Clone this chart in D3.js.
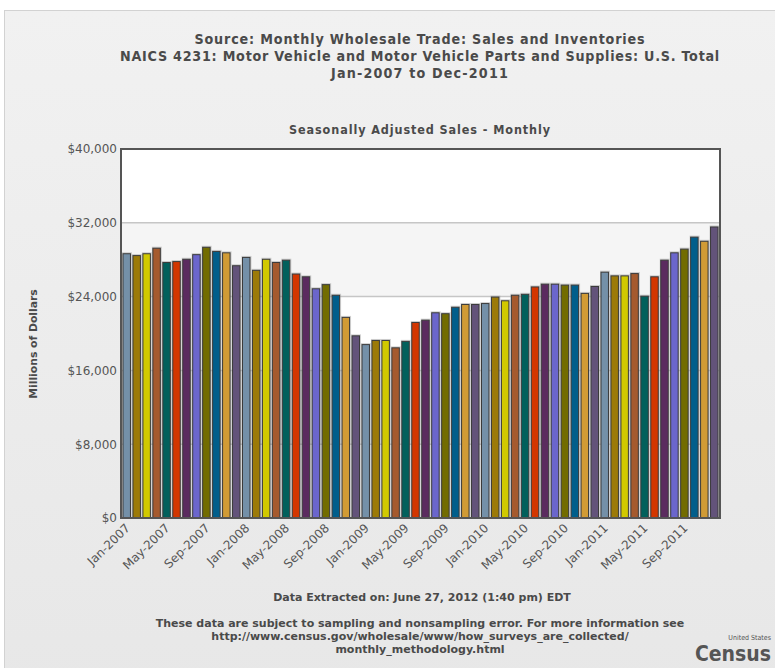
<!DOCTYPE html>
<html><head><meta charset="utf-8">
<script src="https://cdn.jsdelivr.net/npm/d3@7/dist/d3.min.js"></script>
<style>body{margin:0;background:#fff}svg{display:block}</style>
</head><body>
<svg id="c" width="775" height="668"></svg>
<script>
const months = [
 "Jan-2007","Feb-2007","Mar-2007","Apr-2007","May-2007","Jun-2007","Jul-2007","Aug-2007","Sep-2007","Oct-2007","Nov-2007","Dec-2007",
 "Jan-2008","Feb-2008","Mar-2008","Apr-2008","May-2008","Jun-2008","Jul-2008","Aug-2008","Sep-2008","Oct-2008","Nov-2008","Dec-2008",
 "Jan-2009","Feb-2009","Mar-2009","Apr-2009","May-2009","Jun-2009","Jul-2009","Aug-2009","Sep-2009","Oct-2009","Nov-2009","Dec-2009",
 "Jan-2010","Feb-2010","Mar-2010","Apr-2010","May-2010","Jun-2010","Jul-2010","Aug-2010","Sep-2010","Oct-2010","Nov-2010","Dec-2010",
 "Jan-2011","Feb-2011","Mar-2011","Apr-2011","May-2011","Jun-2011","Jul-2011","Aug-2011","Sep-2011","Oct-2011","Nov-2011","Dec-2011"
];
const sales = [
 28700,28500,28700,29300,27750,27850,28100,28600,29400,28950,28800,27400,
 28300,26900,28100,27750,28000,26500,26200,24900,25350,24200,21800,19800,
 18850,19300,19300,18500,19200,21250,21500,22300,22200,22900,23200,23200,
 23300,24000,23600,24200,24300,25100,25400,25400,25300,25300,24400,25150,
 26700,26300,26300,26550,24100,26200,28000,28800,29200,30500,30050,31600
];
const xTickLabels = ["Jan-2007","May-2007","Sep-2007","Jan-2008","May-2008","Sep-2008","Jan-2009","May-2009","Sep-2009","Jan-2010","May-2010","Sep-2010","Jan-2011","May-2011","Sep-2011"];
const yTickValues = [0,8000,16000,24000,32000,40000];
const palette = ["#7490a8","#9c7a08","#d1c900","#a55a2e","#02605c","#d33600","#5b2b5f","#6b66cc","#726c00","#015e8b","#d19b35","#63537a"];
const titleLines = ["Source: Monthly Wholesale Trade: Sales and Inventories","NAICS 4231: Motor Vehicle and Motor Vehicle Parts and Supplies: U.S. Total","Jan-2007 to Dec-2011"];
const subtitle = "Seasonally Adjusted Sales - Monthly";
const yTitle = "Millions of Dollars";
const footLines = ["These data are subject to sampling and nonsampling error. For more information see","http://www.census.gov/wholesale/www/how_surveys_are_collected/","monthly_methodology.html"];
const extracted = "Data Extracted on: June 27, 2012 (1:40 pm) EDT";

const svg = d3.select("#c");
const defs = svg.append("defs");
const g1 = defs.append("linearGradient").attr("id","bg").attr("x1",0).attr("y1",0).attr("x2",0).attr("y2",1);
g1.append("stop").attr("offset","0%").attr("stop-color","#f1f1f1");
g1.append("stop").attr("offset","100%").attr("stop-color","#e7e7e7");

svg.append("rect").attr("x",4.5).attr("y",10.5).attr("width",800).attr("height",700)
  .attr("fill","url(#bg)").attr("stroke","#d2d2d2");

const TF = "'DejaVu Sans Condensed','DejaVu Sans',sans-serif";
const VF = "'DejaVu Sans',Verdana,sans-serif";
function fitSize(t,w,cap){const c=t.node().getComputedTextLength();const fs=parseFloat(t.attr("font-size"));return Math.min(cap,fs*w/c);}
function spread(t,w){const c=t.node().getComputedTextLength();const n=t.text().length;if(c<w&&n>1){t.attr("letter-spacing",((w-c)/n).toFixed(3));}}

// title block
const titleY=[44,61,78], titleW=[451,600,178];
titleLines.forEach((s,i)=>{
  const t=svg.append("text").attr("x",420).attr("y",titleY[i]).attr("text-anchor","middle")
   .attr("font-family",TF).attr("font-weight","bold").attr("font-size",14.2).attr("fill","#4a4a4a").text(s);
  spread(t,titleW[i]);
});

const st=svg.append("text").attr("x",420).attr("y",134).attr("text-anchor","middle")
  .attr("font-family",TF).attr("font-weight","bold").attr("font-size",12.5).attr("fill","#4a4a4a").text(subtitle);
spread(st,262);

const L=121,R=720,T=149,B=518;
const x=d3.scaleBand().domain(months).range([L,R]).padding(0.15);
const y=d3.scaleLinear().domain([0,40000]).range([B,T]);

// background bands
const bands=d3.pairs(yTickValues);
svg.append("g").selectAll("rect").data(bands).join("rect")
 .attr("x",L).attr("width",R-L).attr("y",d=>y(d[1])).attr("height",d=>y(d[0])-y(d[1]))
 .attr("fill",(d,i)=>i%2===0?"#ffffff":"#f5f5f5");
// gridlines
svg.append("g").selectAll("line").data(yTickValues.slice(1,-1)).join("line")
 .attr("x1",L).attr("x2",R).attr("y1",d=>y(d)).attr("y2",d=>y(d)).attr("stroke","#c6c6c6").attr("stroke-width",1.5);

// bars
const bars=svg.append("g");
bars.selectAll("rect.sh").data(sales).join("rect").attr("class","sh")
 .attr("x",(d,i)=>x(months[i])-0.5).attr("width",x.bandwidth()+1.5)
 .attr("y",d=>y(d)-1).attr("height",d=>B-y(d)+1).attr("fill","#9a9a9a").attr("opacity",0.45);
bars.selectAll("rect.b").data(sales).join("rect").attr("class","b")
 .attr("x",(d,i)=>x(months[i])+0.5).attr("width",x.bandwidth()-1)
 .attr("y",d=>y(d)+0.5).attr("height",d=>B-y(d)-0.5)
 .attr("fill",(d,i)=>palette[i%palette.length]).attr("stroke","#3b3b3b").attr("stroke-width",1);

// frame
svg.append("rect").attr("x",L).attr("y",T).attr("width",R-L).attr("height",B-T)
 .attr("fill","none").attr("stroke","#555").attr("stroke-width",2);

// y axis
const ya=svg.append("g").attr("transform",`translate(${L},0)`)
 .call(d3.axisLeft(y).tickValues(yTickValues).tickSize(0).tickPadding(4).tickFormat(d=>"$"+d3.format(",")(d)));
ya.select(".domain").remove();
ya.selectAll("text").attr("font-family",VF).attr("font-size",12).attr("fill","#555");

// x axis
const xa=svg.append("g").attr("transform",`translate(0,${B})`)
 .call(d3.axisBottom(x).tickValues(xTickLabels).tickSize(0).tickPadding(0));
xa.select(".domain").remove();
xa.selectAll("text").attr("font-family",VF).attr("font-size",12).attr("fill","#555")
 .attr("text-anchor","end").attr("dy",0).attr("y",0)
 .attr("transform","translate(4,11) rotate(-44)");

// y title
svg.append("text").attr("transform","translate(37,344) rotate(-90)").attr("text-anchor","middle")
 .attr("font-family",VF).attr("font-weight","bold").attr("font-size",10.8).attr("fill","#4a4a4a").text(yTitle);

// footer
const ex=svg.append("text").attr("x",422).attr("y",601).attr("text-anchor","middle")
 .attr("font-family",VF).attr("font-weight","bold").attr("font-size",11).attr("fill","#4a4a4a").text(extracted);
ex.attr("font-size",fitSize(ex,304,11).toFixed(2));
const fy=[627,640,653];
const ft=footLines.map((s,i)=>svg.append("text").attr("x",420).attr("y",fy[i]).attr("text-anchor","middle")
  .attr("font-family",VF).attr("font-weight","bold").attr("font-size",11).attr("fill","#4a4a4a").text(s));
const fSize=fitSize(ft[0],533,11);
ft.forEach(t=>t.attr("font-size",fSize.toFixed(2)));

// logo
svg.append("text").attr("x",771).attr("y",640).attr("text-anchor","end").attr("font-family","'DejaVu Sans Condensed','DejaVu Sans',sans-serif")
 .attr("font-size",7).attr("fill","#555").text("United States");
svg.append("text").attr("x",771).attr("y",661).attr("text-anchor","end").attr("font-family","'DejaVu Sans Condensed','DejaVu Sans',sans-serif")
 .attr("font-weight","bold").attr("font-size",21).attr("fill","#555").text("Census");
</script>
</body></html>
